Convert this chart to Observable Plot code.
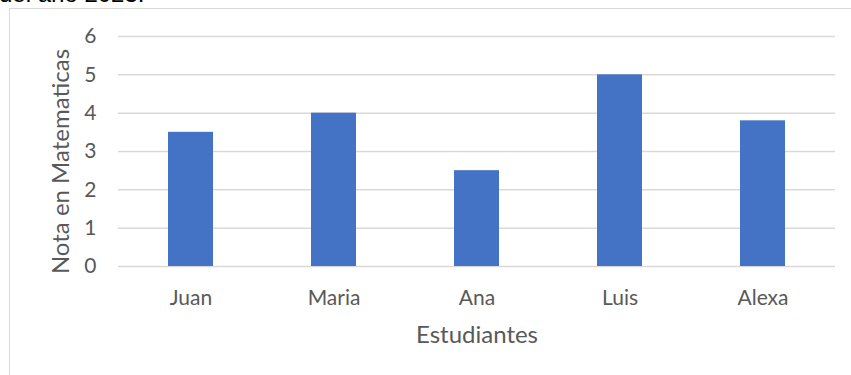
<!DOCTYPE html>
<html>
<head>
<meta charset="utf-8">
<script src="https://cdn.jsdelivr.net/npm/d3@7"></script>
<script src="https://cdn.jsdelivr.net/npm/@observablehq/plot@0.6"></script>
<style>
  html, body { margin: 0; padding: 0; background: #fff; }
  #wrap { position: relative; width: 851px; height: 375px; overflow: hidden; background: #fff; }
  #title { position: absolute; left: -1px; top: -18px; line-height: 24px; font-family: "Liberation Sans", Arial, sans-serif; font-size: 24px; color: #000; white-space: nowrap; z-index: 5; }
  #border { position: absolute; left: 9px; top: 8px; width: 900px; height: 400px; border-left: 1.5px solid #d9d9d9; border-top: 1.5px solid #d9d9d9; box-sizing: border-box; }
  #chart { position: absolute; left: 0; top: 0; }
</style>
</head>
<body>
<div id="wrap">
  <div id="border"></div>
  <div id="chart"></div>
  <div id="title">del año 2023.</div>
</div>
<script>
const estudiantes = ["Juan", "Maria", "Ana", "Luis", "Alexa"];
const notas = [3.5, 4.0, 2.5, 5.0, 3.8];
const yTicks = [0, 1, 2, 3, 4, 5, 6];
const xTitle = "Estudiantes";
const yTitle = "Nota en Matematicas";

const data = estudiantes.map((e, i) => ({estudiante: e, nota: notas[i]}));
const font = "Lato, 'Open Sans', sans-serif";

const chart = Plot.plot({
  width: 851,
  height: 375,
  marginLeft: 118,
  marginRight: 16,
  marginTop: 36,
  marginBottom: 109,
  style: {fontFamily: font, fontSize: "21px", color: "#595959", background: "transparent"},
  x: {domain: estudiantes, paddingInner: 0.686, paddingOuter: 0.343, align: 0.5},
  y: {domain: [0, 6]},
  marks: [
    Plot.ruleY(yTicks, {stroke: "#d9d9d9", strokeWidth: 1.5}),
    Plot.barY(data, {x: "estudiante", y: "nota", fill: "#4472c4"}),
    Plot.axisX({tickSize: 0, tickPadding: 24, label: null, fontSize: 21, fill: "#595959"}),
    Plot.axisY({ticks: yTicks, tickFormat: d => String(d), tickSize: 0, tickPadding: 22, label: null, fontSize: 21, fill: "#595959"}),
    Plot.text([xTitle], {frameAnchor: "bottom", lineAnchor: "middle", dy: 69, fontSize: 24, fill: "#595959"}),
    Plot.text([yTitle], {frameAnchor: "left", textAnchor: "middle", dx: -57, dy: 10, rotate: -90, fontSize: 24, fill: "#595959"})
  ]
});
document.getElementById("chart").appendChild(chart);
</script>
</body>
</html>
